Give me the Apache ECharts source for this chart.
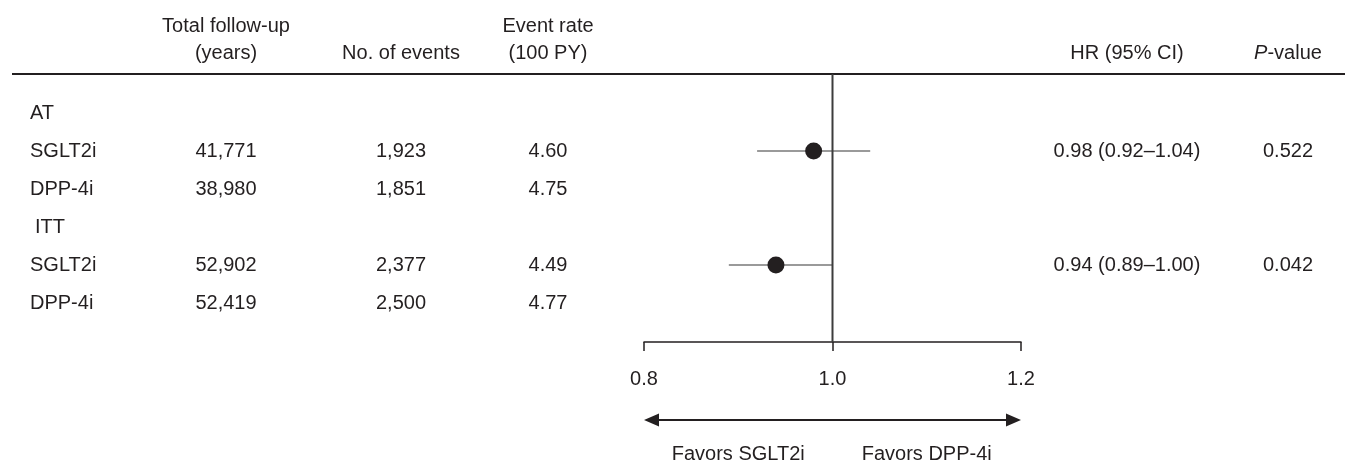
<!DOCTYPE html>
<html><head><meta charset="utf-8">
<script src="https://cdn.jsdelivr.net/npm/echarts@6/dist/echarts.min.js"></script>
<style>html,body{margin:0;padding:0;background:#fff}#c{width:1345px;height:465px}</style>
</head><body><div id="c"></div>
<script>
// ---------- data ----------
const groups = ['AT', 'ITT'];
const arms = ['SGLT2i', 'DPP-4i'];
const followUpYears = [41771, 38980, 52902, 52419];
const eventCounts = [1923, 1851, 2377, 2500];
const eventRates = [4.60, 4.75, 4.49, 4.77];
const hrValues = [0.98, 0.94];
const ciLower = [0.92, 0.89];
const ciUpper = [1.04, 1.00];
const pValues = ['0.522', '0.042'];
const axisMin = 0.8, axisMax = 1.2, axisStep = 0.2, refValue = 1.0;
const favorLabels = ['Favors SGLT2i', 'Favors DPP-4i'];
const favorPositions = [0.9, 1.1];
const headerLine1 = ['Total follow-up', '', 'Event rate', '', ''];
const headerLine2 = ['(years)', 'No. of events', '(100 PY)', 'HR (95% CI)', '{i|P}-value'];

// ---------- layout ----------
const W = 1345, H = 465;
const ROW0 = 113, ROWH = 38;
const Y_MIN = -ROW0 / ROWH, Y_MAX = (H - ROW0) / ROWH;
const rowOf = px => (px - ROW0) / ROWH;
const HEAD1 = rowOf(26), HEAD2 = rowOf(53), RULE = rowOf(74);
const AXIS_Y = 342, ARROW_R = rowOf(420), FAVOR_R = rowOf(454);
const colX = [226, 401, 548, 1127, 1288];
const groupLabelX = [30, 35];
const armLabelX = 30;
const TXT = '#231f20';
const FONT = '"Liberation Sans", Arial, Helvetica, sans-serif';
const FS = 20;

const fmtInt = v => v.toLocaleString('en-US');

// ---------- table cells ----------
const cells = [];
function cell(x, r, text, align) {
  cells.push({ value: [x, r], label: { formatter: text, align: align || 'center' } });
}
headerLine1.forEach((t, i) => { if (t) cell(colX[i], HEAD1, t); });
headerLine2.forEach((t, i) => { if (t) cell(colX[i], HEAD2, t); });
groups.forEach((g, gi) => {
  const base = gi * 3;
  cell(groupLabelX[gi], base, g, 'left');
  arms.forEach((a, ai) => {
    const k = gi * 2 + ai, r = base + 1 + ai;
    cell(armLabelX, r, a, 'left');
    cell(colX[0], r, fmtInt(followUpYears[k]));
    cell(colX[1], r, fmtInt(eventCounts[k]));
    cell(colX[2], r, eventRates[k].toFixed(2));
  });
  cell(colX[3], base + 1, hrValues[gi].toFixed(2) + ' (' + ciLower[gi].toFixed(2) + '\u2013' + ciUpper[gi].toFixed(2) + ')');
  cell(colX[4], base + 1, pValues[gi]);
});

const hrPoints = hrValues.map((v, gi) => [v, gi * 3 + 1]);
const ciRows = hrValues.map((v, gi) => [ciLower[gi], ciUpper[gi], gi * 3 + 1]);

const labelBase = { show: true, position: 'inside', fontSize: FS, color: TXT, fontFamily: FONT,
                    verticalAlign: 'middle', opacity: 1, textBorderWidth: 0 };

const chart = echarts.init(document.getElementById('c'), null, { renderer: 'canvas' });
chart.setOption({
  animation: false,
  backgroundColor: '#fff',
  textStyle: { fontFamily: FONT },
  grid: [
    { left: 644, top: 0, width: 377, height: H, containLabel: false, outerBoundsMode: 'none' },
    { left: 0, top: 0, width: W, height: H, containLabel: false, outerBoundsMode: 'none' }
  ],
  xAxis: [
    {
      type: 'value', gridIndex: 0, min: axisMin, max: axisMax, interval: axisStep,
      position: 'bottom', offset: AXIS_Y - H,
      axisLine: { show: true, onZero: false, lineStyle: { color: TXT, width: 1.5 } },
      axisTick: { show: true, inside: false, length: 9, lineStyle: { color: TXT, width: 1.5 } },
      axisLabel: { margin: 27, fontSize: FS, color: TXT, fontFamily: FONT, formatter: v => v.toFixed(1) },
      splitLine: { show: false }
    },
    { type: 'value', gridIndex: 1, min: 0, max: W, show: false }
  ],
  yAxis: [
    { type: 'value', gridIndex: 0, inverse: true, min: Y_MIN, max: Y_MAX, show: false },
    { type: 'value', gridIndex: 1, inverse: true, min: Y_MIN, max: Y_MAX, show: false }
  ],
  series: [
    {
      type: 'line', xAxisIndex: 1, yAxisIndex: 1, data: [[12, RULE], [W, RULE]],
      showSymbol: false, symbol: 'none', lineStyle: { color: TXT, width: 2.2, opacity: 1 }, silent: true
    },
    {
      type: 'line', xAxisIndex: 0, yAxisIndex: 0, data: [[refValue, RULE], [refValue, rowOf(AXIS_Y)]],
      showSymbol: false, symbol: 'none', lineStyle: { color: '#3c3c3c', width: 2, opacity: 1 }, silent: true
    },
    {
      type: 'custom', xAxisIndex: 0, yAxisIndex: 0, data: ciRows, encode: { x: [0, 1], y: 2 },
      renderItem: (params, api) => {
        const a = api.coord([api.value(0), api.value(2)]);
        const b = api.coord([api.value(1), api.value(2)]);
        return { type: 'line', shape: { x1: a[0], y1: a[1], x2: b[0], y2: b[1] },
                 style: { stroke: '#9a9a9a', lineWidth: 2 } };
      }, silent: true
    },
    {
      type: 'scatter', xAxisIndex: 0, yAxisIndex: 0, data: hrPoints,
      symbol: 'circle', symbolSize: 17, itemStyle: { color: TXT, opacity: 1 }, silent: true, z: 5
    },
    {
      type: 'custom', xAxisIndex: 0, yAxisIndex: 0, data: [[axisMin, axisMax, ARROW_R]], encode: { x: [0, 1], y: 2 },
      renderItem: (params, api) => {
        const a = api.coord([api.value(0), api.value(2)]);
        const b = api.coord([api.value(1), api.value(2)]);
        const L = 15, HW = 6.5, y = a[1];
        return { type: 'group', children: [
          { type: 'line', shape: { x1: a[0] + L - 2, y1: y, x2: b[0] - L + 2, y2: y }, style: { stroke: TXT, lineWidth: 2 } },
          { type: 'polygon', shape: { points: [[a[0], y], [a[0] + L, y - HW], [a[0] + L, y + HW]] }, style: { fill: TXT } },
          { type: 'polygon', shape: { points: [[b[0], y], [b[0] - L, y - HW], [b[0] - L, y + HW]] }, style: { fill: TXT } }
        ] };
      }, silent: true
    },
    {
      type: 'scatter', xAxisIndex: 0, yAxisIndex: 0, symbolSize: 0,
      data: favorPositions.map((x, i) => ({ value: [x, FAVOR_R], label: { formatter: favorLabels[i] } })),
      label: labelBase,
      itemStyle: { color: TXT, opacity: 1 }, silent: true
    },
    {
      type: 'scatter', xAxisIndex: 1, yAxisIndex: 1, symbolSize: 0, data: cells,
      label: Object.assign({}, labelBase, {
        rich: { i: { fontStyle: 'italic', fontSize: FS, color: TXT, fontFamily: FONT } } }),
      itemStyle: { color: TXT, opacity: 1 }, silent: true
    }
  ]
});
</script>
</body></html>
